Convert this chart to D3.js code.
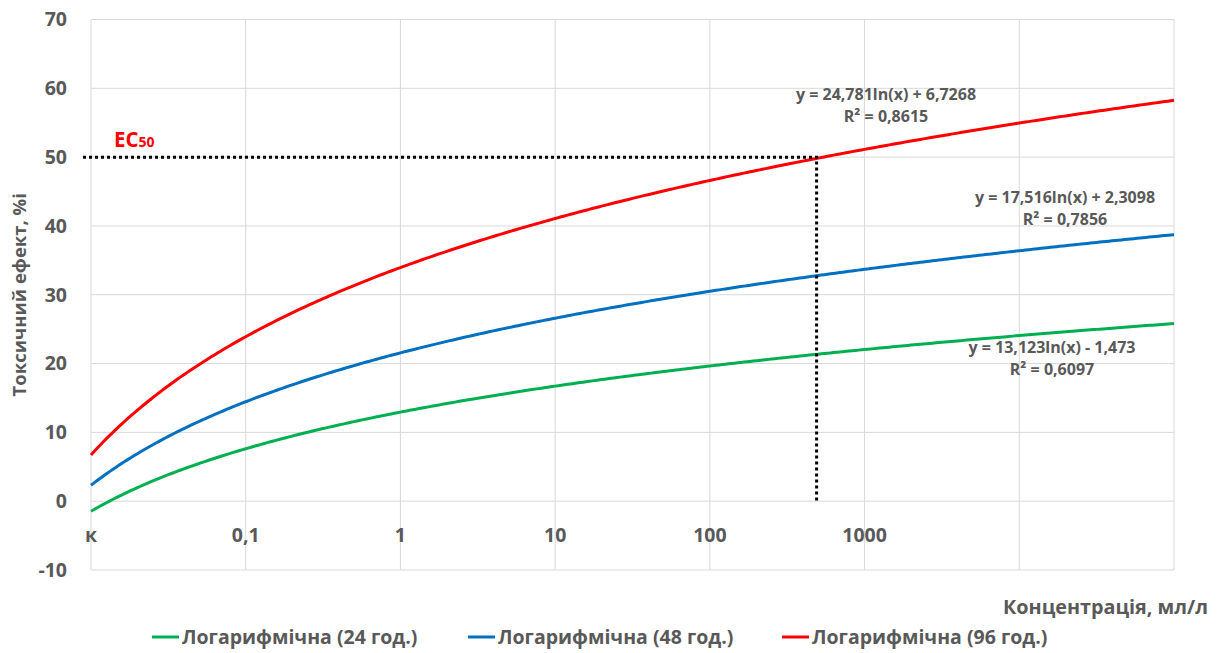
<!DOCTYPE html>
<html>
<head>
<meta charset="utf-8">
<script src="https://cdn.jsdelivr.net/npm/d3@7"></script>
<style>
  body { margin: 0; background: #fff; }
  text { font-family: "Open Sans", "Noto Sans", sans-serif; font-weight: bold; fill: #595959; }
</style>
</head>
<body>
<div id="chart"></div>
<script>
// categories on the x axis (position 1..8), last two have no label
const categories = ["к", "0,1", "1", "10", "100", "1000", "", ""];
const yTicks = [-10, 0, 10, 20, 30, 40, 50, 60, 70];

// log trendlines y = a*ln(x) + b, as printed on the chart
const seriesNames = ["Логарифмічна (24 год.)", "Логарифмічна (48 год.)", "Логарифмічна (96 год.)"];
const seriesColors = ["#00b050", "#0070c0", "#ff0000"];
const slopes = [13.123, 17.516, 24.781];
const intercepts = [-1.473, 2.3098, 6.7268];
const equations = ["y = 13,123ln(x) - 1,473", "y = 17,516ln(x) + 2,3098", "y = 24,781ln(x) + 6,7268"];
const rSquared = ["R² = 0,6097", "R² = 0,7856", "R² = 0,8615"];

// EC50 marker
const ec50Level = 50;
const ec50Position = 5.69;

const width = 1218, height = 653;
const margin = { top: 19.5, right: 44, bottom: 83, left: 91 };

const svg = d3.select("#chart").append("svg")
  .attr("width", width)
  .attr("height", height);

const x = d3.scaleLinear()
  .domain([1, categories.length])
  .range([margin.left, width - margin.right]);

const y = d3.scaleLinear()
  .domain([-10, 70])
  .range([height - margin.bottom, margin.top]);

// grid
svg.append("g")
  .selectAll("line")
  .data(yTicks)
  .join("line")
  .attr("x1", x(1)).attr("x2", x(categories.length))
  .attr("y1", d => y(d)).attr("y2", d => y(d))
  .attr("stroke", "#d9d9d9");

svg.append("g")
  .selectAll("line")
  .data(d3.range(1, categories.length + 1))
  .join("line")
  .attr("x1", d => x(d)).attr("x2", d => x(d))
  .attr("y1", y(-10)).attr("y2", y(70))
  .attr("stroke", "#d9d9d9");

// y tick labels
svg.append("g")
  .selectAll("text")
  .data(yTicks)
  .join("text")
  .attr("x", 67)
  .attr("y", d => y(d))
  .attr("dy", "0.35em")
  .attr("text-anchor", "end")
  .attr("font-size", 19.5)
  .text(d => d);

// x tick labels
svg.append("g")
  .selectAll("text")
  .data(categories)
  .join("text")
  .attr("x", (d, i) => x(i + 1))
  .attr("y", 542)
  .attr("text-anchor", "middle")
  .attr("font-size", 19.5)
  .text(d => d);

// curves
const curveXs = d3.range(1, categories.length + 0.001, 0.02);
const line = d3.line()
  .x(d => x(d[0]))
  .y(d => y(d[1]));

svg.append("g")
  .selectAll("path")
  .data(slopes)
  .join("path")
  .attr("fill", "none")
  .attr("stroke", (d, i) => seriesColors[i])
  .attr("stroke-width", 3)
  .attr("d", (a, i) => line(curveXs.map(v => [v, a * Math.log(v) + intercepts[i]])));

// EC50 dotted lines
svg.append("path")
  .attr("fill", "none")
  .attr("stroke", "#000")
  .attr("stroke-width", 3)
  .attr("stroke-dasharray", "3,3")
  .attr("d", `M${x(1) - 8},${y(ec50Level)}H${x(ec50Position)}V${y(0)}`);

svg.append("text")
  .attr("x", 114)
  .attr("y", 147)
  .attr("font-size", 20.5)
  .style("fill", "#ff0000")
  .text("EC")
  .append("tspan")
  .attr("font-size", 14)
  .text("50");

// trendline labels
const labelPos = [[1052, 353], [1065, 203], [886, 100]];
const labels = svg.append("g")
  .selectAll("g")
  .data(equations)
  .join("g");
labels.append("text")
  .attr("x", (d, i) => labelPos[i][0])
  .attr("y", (d, i) => labelPos[i][1])
  .attr("text-anchor", "middle")
  .attr("font-size", 16)
  .text(d => d);
labels.append("text")
  .attr("x", (d, i) => labelPos[i][0])
  .attr("y", (d, i) => labelPos[i][1] + 22)
  .attr("text-anchor", "middle")
  .attr("font-size", 16)
  .text((d, i) => rSquared[i]);

// axis titles
svg.append("text")
  .attr("transform", `translate(26,${(y(70) + y(-10)) / 2}) rotate(-90)`)
  .attr("text-anchor", "middle")
  .attr("font-size", 18.5)
  .text("Токсичний ефект, %і");

svg.append("text")
  .attr("x", 1208)
  .attr("y", 614)
  .attr("text-anchor", "end")
  .attr("font-size", 19.8)
  .text("Концентрація, мл/л");

// legend
const legendX = [152, 468, 782];
const legend = svg.append("g")
  .selectAll("g")
  .data(seriesNames)
  .join("g")
  .attr("transform", (d, i) => `translate(${legendX[i]},637)`);
legend.append("line")
  .attr("x1", 0).attr("x2", 27)
  .attr("stroke", (d, i) => seriesColors[i])
  .attr("stroke-width", 3);
legend.append("text")
  .attr("x", 30)
  .attr("dy", "0.35em")
  .attr("font-size", 19.5)
  .text(d => d);
</script>
</body>
</html>
